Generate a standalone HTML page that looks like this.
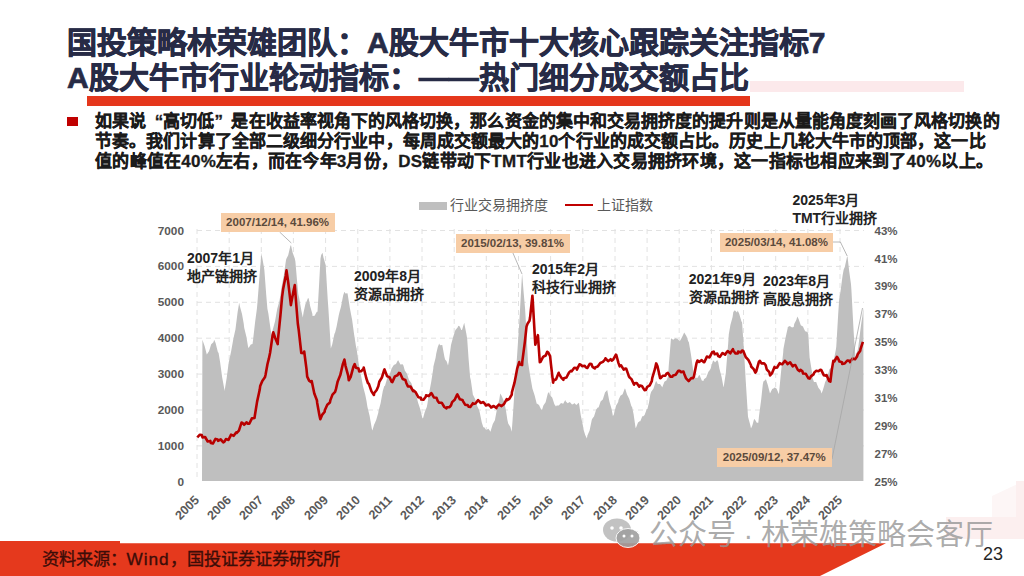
<!DOCTYPE html>
<html lang="zh-CN"><head><meta charset="utf-8">
<style>
*{margin:0;padding:0;box-sizing:border-box}
html,body{width:1024px;height:576px;overflow:hidden;background:#fff}
body{position:relative;font-family:"Liberation Sans",sans-serif}
.a{position:absolute;white-space:nowrap}
.t{position:absolute;left:67px;font-size:30px;line-height:34px;font-weight:bold;color:#272b46;white-space:nowrap;letter-spacing:0px;-webkit-text-stroke:0.7px #272b46}
.ql{display:inline-block;width:1em;text-align:right}
.qr{display:inline-block;width:1em;text-align:left}
.p{position:absolute;left:95px;font-size:17px;line-height:20px;font-weight:bold;color:#1b1b1b;white-space:nowrap;-webkit-text-stroke:0.3px #1b1b1b}
.yl{position:absolute;left:140px;width:44px;text-align:right;font-size:11.8px;line-height:16px;font-weight:bold;color:#595959}
.yr{position:absolute;left:874.5px;font-size:11.5px;line-height:16px;font-weight:bold;color:#595959}
.xl{position:absolute;top:490.5px;width:40px;text-align:right;font-size:12.5px;line-height:14px;font-weight:bold;color:#595959;transform:rotate(-45deg);transform-origin:100% 50%}
.an{position:absolute;font-size:14px;line-height:18px;font-weight:bold;color:#222;white-space:nowrap}
.lb{position:absolute;height:19px;background:#f7cda6;color:#5b4a3c;font-size:11.5px;line-height:19px;font-weight:bold;text-align:center;white-space:nowrap}
.lg{position:absolute;font-size:14px;line-height:16px;color:#595959;white-space:nowrap}
</style></head><body>
<svg class="a" style="left:0;top:0" width="1024" height="576" viewBox="0 0 1024 576">
 <polygon points="992,496 1024,481 1024,517 992,517" fill="#fdf6f6"/>
 <rect x="946" y="517" width="78" height="22" fill="#fcefef"/>
 <rect x="1016" y="481" width="8" height="58" fill="#fcefef"/>
</svg>
<div class="t" style="top:26px">国投策略林荣雄团队：A股大牛市十大核心跟踪关注指标7</div>
<div class="a" style="left:750px;top:81px;width:214px;height:11px;background:#fce9eb"></div>
<div class="t" style="top:61px">A股大牛市行业轮动指标：——热门细分成交额占比</div>
<div class="a" style="left:87px;top:95.5px;width:663px;height:10.5px;background:#e5371c"></div>
<div class="a" style="left:67px;top:116.5px;width:10.5px;height:9px;background:#c00000"></div>
<div class="p" style="top:111.5px;letter-spacing:0.07px">如果说<span class="ql">“</span>高切低<span class="qr">”</span>是在收益率视角下的风格切换，那么资金的集中和交易拥挤度的提升则是从量能角度刻画了风格切换的</div>
<div class="p" style="top:131.5px;letter-spacing:0.09px">节奏。我们计算了全部二级细分行业中，每周成交额最大的10个行业的成交额占比。历史上几轮大牛市的顶部，这一比</div>
<div class="p" style="top:151.5px;letter-spacing:0.25px">值的峰值在40%左右，而在今年3月份，DS链带动下TMT行业也进入交易拥挤环境，这一指标也相应来到了40%以上。</div>

<div class="a" style="left:419px;top:201.5px;width:28px;height:8.5px;background:#bfbfbf"></div>
<div class="lg" style="left:450px;top:197px">行业交易拥挤度</div>
<div class="a" style="left:565px;top:204px;width:28px;height:2.2px;background:#c00000"></div>
<div class="lg" style="left:597px;top:197px">上证指数</div>

<svg class="a" style="left:0;top:0" width="1024" height="576" viewBox="0 0 1024 576">
 <g stroke="#e2e2e2" stroke-width="1" stroke-dasharray="5,4" fill="none">
<line x1="197" y1="445.9" x2="864" y2="445.9"/>
<line x1="197" y1="410.0" x2="864" y2="410.0"/>
<line x1="197" y1="374.1" x2="864" y2="374.1"/>
<line x1="197" y1="338.2" x2="864" y2="338.2"/>
<line x1="197" y1="302.3" x2="864" y2="302.3"/>
<line x1="197" y1="266.4" x2="864" y2="266.4"/>
<line x1="197" y1="230.5" x2="864" y2="230.5"/>
<line x1="197.0" y1="229" x2="197.0" y2="481"/>
<line x1="229.2" y1="229" x2="229.2" y2="481"/>
<line x1="261.3" y1="229" x2="261.3" y2="481"/>
<line x1="293.4" y1="229" x2="293.4" y2="481"/>
<line x1="325.6" y1="229" x2="325.6" y2="481"/>
<line x1="357.8" y1="229" x2="357.8" y2="481"/>
<line x1="389.9" y1="229" x2="389.9" y2="481"/>
<line x1="422.0" y1="229" x2="422.0" y2="481"/>
<line x1="454.2" y1="229" x2="454.2" y2="481"/>
<line x1="486.3" y1="229" x2="486.3" y2="481"/>
<line x1="518.5" y1="229" x2="518.5" y2="481"/>
<line x1="550.6" y1="229" x2="550.6" y2="481"/>
<line x1="582.8" y1="229" x2="582.8" y2="481"/>
<line x1="615.0" y1="229" x2="615.0" y2="481"/>
<line x1="647.1" y1="229" x2="647.1" y2="481"/>
<line x1="679.2" y1="229" x2="679.2" y2="481"/>
<line x1="711.4" y1="229" x2="711.4" y2="481"/>
<line x1="743.5" y1="229" x2="743.5" y2="481"/>
<line x1="775.7" y1="229" x2="775.7" y2="481"/>
<line x1="807.9" y1="229" x2="807.9" y2="481"/>
<line x1="840.0" y1="229" x2="840.0" y2="481"/>
 </g>
 <path d="M202,481.0 L202.4,339.7 L204.6,346.1 L206.8,354.5 L209.0,351.2 L211.2,344.2 L213.4,342.3 L214.2,339.7 L215.6,342.9 L217.8,351.7 L218.6,353.0 L220.0,361.4 L222.2,377.4 L224.4,389.5 L224.5,391.3 L226.6,378.6 L228.8,361.9 L228.9,361.8 L231.0,352.1 L233.2,339.7 L234.8,332.3 L235.4,329.7 L237.6,312.3 L239.2,302.8 L239.8,306.1 L242.0,314.1 L243.7,323.5 L244.2,327.7 L246.4,336.8 L248.1,347.1 L248.6,347.9 L250.8,344.6 L252.5,344.1 L253.0,340.6 L255.2,321.3 L256.9,308.7 L257.4,303.2 L259.6,275.1 L261.5,252.7 L261.8,255.3 L264.0,267.4 L264.4,270.4 L266.2,294.4 L267.4,308.7 L268.4,313.8 L270.6,329.5 L271.8,335.3 L272.8,329.5 L275.0,321.5 L277.2,308.9 L279.4,300.9 L280.6,294.0 L281.6,287.0 L283.8,275.6 L286.0,260.0 L286.5,258.6 L288.2,255.2 L290.4,245.7 L291.0,245.3 L292.6,252.5 L294.8,258.5 L295.4,261.5 L297.0,280.2 L298.3,294.0 L299.2,297.9 L301.4,310.8 L302.8,317.6 L303.6,312.2 L305.7,302.8 L305.8,303.6 L308.0,298.0 L308.7,298.4 L310.2,306.3 L312.4,314.1 L312.5,316.1 L314.6,315.7 L316.8,311.8 L317.5,311.7 L319.0,285.9 L320.5,258.6 L321.2,255.0 L322.5,252.7 L323.4,257.2 L325.5,264.5 L325.6,264.4 L327.8,300.5 L328.4,308.7 L330.0,334.7 L330.8,348.6 L332.2,344.6 L334.4,333.9 L335.2,332.3 L336.6,326.5 L338.8,314.9 L339.6,311.7 L341.0,306.7 L343.2,295.2 L344.4,291.8 L345.4,293.6 L347.4,293.3 L347.6,293.8 L349.8,307.7 L351.8,318.3 L352.0,319.0 L354.2,334.9 L356.2,347.8 L356.4,347.6 L358.6,363.0 L360.6,374.4 L360.8,374.2 L363.0,386.2 L365.2,394.4 L366.5,400.9 L367.4,406.7 L369.6,415.8 L371.8,428.6 L372.4,430.4 L374.0,425.0 L376.2,420.0 L378.3,412.7 L378.4,411.5 L380.6,403.2 L382.8,390.9 L384.2,386.2 L385.0,385.7 L387.2,378.2 L389.4,375.2 L391.6,368.5 L393.8,365.0 L396.0,363.9 L397.5,361.1 L398.2,360.2 L400.4,364.5 L402.6,364.3 L403.4,365.5 L404.8,370.6 L407.0,373.8 L409.2,380.8 L409.3,380.3 L411.4,383.2 L413.6,389.7 L415.2,392.1 L415.8,393.4 L418.0,402.4 L420.2,409.0 L421.1,412.7 L422.4,417.9 L423.0,418.6 L424.6,412.5 L426.8,407.1 L427.4,403.9 L429.0,393.4 L431.2,382.1 L433.3,368.5 L433.4,366.4 L435.6,357.8 L436.2,353.7 L437.8,347.1 L439.2,343.4 L440.0,345.3 L442.1,344.9 L442.2,344.7 L444.4,356.8 L445.1,359.6 L446.6,361.2 L448.0,365.5 L448.8,361.4 L451.0,344.9 L453.2,336.7 L455.4,330.1 L457.6,327.5 L458.3,325.7 L459.8,326.6 L461.3,330.1 L462.0,329.9 L464.2,322.8 L466.4,334.0 L467.2,339.0 L468.6,359.0 L470.1,377.3 L470.8,380.0 L473.0,395.6 L473.1,395.0 L475.2,399.3 L477.4,406.4 L479.0,409.8 L479.6,411.7 L481.8,422.6 L483.4,427.5 L484.0,427.0 L486.2,429.9 L488.4,428.7 L490.6,431.7 L490.8,430.4 L492.8,423.9 L495.0,419.9 L495.2,418.6 L497.2,407.9 L499.4,398.9 L500.2,393.6 L501.6,395.7 L503.8,401.1 L504.1,400.9 L506.0,410.8 L507.4,420.0 L508.2,423.6 L510.4,427.0 L511.7,431.7 L512.6,419.8 L514.8,386.3 L516.2,368.0 L517.0,356.9 L519.2,323.7 L521.4,285.2 L522.1,273.6 L523.6,292.1 L525.1,309.0 L525.8,320.8 L528.0,362.1 L530.2,375.9 L532.4,388.6 L534.6,395.2 L536.8,404.0 L536.9,403.4 L539.0,405.0 L541.2,409.6 L542.0,410.0 L543.4,405.5 L545.6,402.2 L547.8,393.5 L549.0,392.0 L550.0,395.3 L552.2,397.4 L554.4,404.3 L556.0,406.5 L556.6,405.5 L558.8,405.4 L561.0,403.1 L563.2,403.8 L565.4,399.8 L565.5,401.0 L567.6,403.3 L569.8,402.1 L572.0,404.6 L573.5,404.0 L574.2,402.9 L576.4,405.0 L578.6,402.7 L579.0,403.5 L580.8,415.5 L583.0,426.0 L583.5,429.5 L585.2,435.1 L586.9,438.5 L587.4,435.4 L589.6,430.4 L591.8,419.7 L592.6,418.2 L594.0,416.6 L596.2,409.6 L598.2,406.9 L598.4,408.0 L600.6,401.5 L602.8,399.5 L605.0,392.6 L607.2,390.0 L609.4,401.5 L611.6,409.1 L612.9,416.0 L613.8,414.8 L616.0,405.8 L618.2,402.1 L618.5,400.1 L620.4,395.8 L622.6,394.3 L624.8,388.6 L625.3,388.9 L627.0,394.6 L629.2,398.7 L631.4,406.2 L632.1,406.9 L633.6,414.3 L635.5,427.2 L635.8,428.3 L638.0,422.5 L640.0,421.0 L640.2,421.6 L642.4,416.1 L643.0,416.5 L644.6,414.9 L646.8,409.1 L647.4,409.1 L649.0,402.4 L650.3,394.4 L651.2,391.8 L653.4,388.7 L655.6,381.9 L656.2,381.1 L657.8,383.9 L660.0,383.9 L662.1,387.0 L662.2,387.6 L664.4,381.7 L666.6,380.2 L668.0,376.7 L668.8,365.3 L671.0,338.3 L673.2,339.8 L675.4,338.3 L677.6,339.0 L679.8,341.3 L682.0,337.3 L684.2,332.4 L686.4,335.9 L688.6,342.3 L688.7,341.3 L690.8,353.4 L691.6,359.0 L693.0,369.3 L694.6,379.6 L695.2,377.5 L697.4,378.0 L699.0,375.2 L699.6,375.0 L701.8,380.4 L703.4,381.1 L704.0,379.2 L706.2,377.4 L708.4,371.7 L709.3,370.8 L710.6,368.7 L712.8,361.2 L713.7,360.5 L715.0,362.4 L717.2,360.1 L718.2,361.9 L719.4,368.6 L721.6,377.1 L723.5,387.3 L723.8,386.3 L725.9,372.6 L726.0,370.6 L728.2,343.2 L728.8,334.2 L730.4,324.9 L732.6,317.0 L733.3,312.1 L734.8,310.3 L737.0,312.4 L737.7,310.6 L739.2,313.8 L741.4,321.2 L742.1,322.4 L743.6,345.0 L745.1,369.6 L745.8,381.8 L748.0,416.8 L750.2,424.7 L751.0,428.6 L752.4,425.3 L753.9,419.8 L754.6,419.1 L756.8,422.7 L758.3,422.7 L759.0,415.9 L761.2,399.4 L762.8,384.4 L763.4,381.6 L765.6,379.7 L765.7,378.5 L767.8,385.0 L770.0,393.4 L770.1,393.2 L772.2,389.0 L774.4,388.1 L774.6,387.3 L776.6,388.7 L778.8,394.1 L779.0,393.2 L781.0,372.3 L783.2,352.4 L783.4,349.0 L785.4,338.5 L787.6,328.5 L787.8,326.9 L789.8,325.9 L792.0,327.4 L793.7,326.9 L794.2,324.0 L796.4,319.8 L797.3,316.5 L798.6,318.9 L800.8,325.2 L801.1,325.4 L803.0,326.4 L803.8,328.5 L805.2,331.3 L807.4,332.0 L808.3,334.4 L809.6,357.5 L809.7,358.0 L811.8,371.0 L812.7,378.6 L814.0,381.9 L816.2,382.0 L817.1,384.5 L818.4,387.8 L820.6,390.6 L821.5,393.4 L822.8,390.2 L824.5,384.5 L825.0,382.5 L827.2,377.4 L828.9,371.3 L829.4,369.2 L831.6,367.4 L833.3,363.9 L833.8,360.2 L836.0,348.8 L836.3,346.2 L838.2,314.0 L839.2,299.0 L840.4,292.2 L842.6,275.5 L843.7,269.5 L844.8,267.0 L847.0,257.0 L847.5,256.2 L849.2,271.2 L851.0,284.2 L851.4,289.8 L853.6,330.8 L854.0,337.3 L855.5,358.0 L855.8,355.3 L858.0,349.1 L858.4,346.2 L860.2,331.4 L861.4,322.6 L862.4,316.2 L863.4,307.8 L863.4,481.0 Z" fill="#bfbfbf"/>
 <path d="M197.3,437.4 L199.9,434.7 L201.8,435.1 L202.5,437.4 L205.1,437.0 L207.7,441.5 L210.3,440.9 L210.8,443.0 L212.9,443.5 L215.5,438.9 L217.6,439.6 L218.1,440.9 L220.7,439.3 L223.3,442.4 L224.3,441.9 L225.9,439.1 L228.5,439.9 L231.1,434.7 L232.2,435.1 L233.7,435.8 L236.3,432.3 L236.8,432.9 L238.9,430.7 L241.5,422.6 L242.4,422.7 L244.1,424.8 L246.7,422.3 L248.0,423.8 L249.3,423.8 L251.9,418.4 L254.5,418.0 L254.8,416.0 L257.1,401.6 L259.7,389.8 L260.2,386.0 L262.3,381.0 L264.9,377.3 L265.5,375.0 L267.5,364.0 L268.8,358.9 L270.1,352.7 L272.7,334.7 L273.3,332.3 L275.3,338.2 L277.7,344.1 L277.9,340.4 L280.5,314.7 L282.1,296.9 L283.1,289.3 L285.7,276.0 L286.5,270.4 L288.3,283.0 L290.9,305.1 L291.0,304.3 L293.5,291.0 L294.8,285.1 L296.1,302.5 L297.8,323.5 L298.7,329.9 L301.3,353.0 L303.9,353.1 L304.2,351.5 L306.5,369.1 L307.2,376.6 L309.1,380.6 L311.6,382.5 L311.7,381.1 L314.3,393.5 L316.9,400.2 L317.2,403.0 L319.5,415.7 L320.3,419.3 L322.1,414.9 L324.7,411.7 L324.8,410.3 L327.3,404.8 L329.9,402.5 L330.4,400.1 L332.5,394.6 L335.1,391.9 L336.0,388.9 L337.7,381.4 L340.3,375.1 L342.9,363.9 L344.4,359.6 L345.5,365.8 L348.1,375.4 L348.8,380.3 L350.7,376.8 L353.3,367.1 L354.7,364.1 L355.9,367.7 L358.5,368.5 L359.2,371.4 L361.1,371.3 L363.6,368.5 L363.7,367.6 L366.3,378.3 L368.0,383.2 L368.9,383.8 L371.5,391.4 L373.9,395.0 L374.1,393.3 L376.7,390.0 L378.3,386.2 L379.3,381.7 L381.9,377.5 L384.2,370.0 L384.5,369.4 L387.1,376.2 L389.7,377.5 L391.6,381.8 L392.3,382.1 L394.9,376.4 L397.5,375.3 L399.0,372.9 L400.1,373.2 L402.7,379.1 L405.3,379.9 L406.4,383.2 L407.9,386.4 L410.5,386.5 L413.1,391.1 L413.7,390.6 L415.7,392.3 L418.3,397.2 L420.9,397.7 L421.1,399.5 L423.5,399.7 L425.9,396.5 L426.1,395.3 L428.7,396.1 L431.3,393.1 L431.8,393.6 L433.9,397.5 L436.5,397.7 L437.7,400.9 L439.1,402.8 L441.7,402.7 L444.3,407.0 L446.5,408.3 L446.9,407.3 L449.5,407.2 L451.0,405.4 L452.1,402.1 L454.7,399.8 L456.9,395.0 L457.3,394.4 L459.9,399.3 L462.5,399.9 L462.8,400.9 L465.1,404.7 L467.7,405.1 L468.7,406.8 L470.3,406.9 L472.9,403.2 L473.1,403.9 L475.5,403.5 L478.1,400.1 L479.0,400.9 L480.7,402.9 L483.3,402.1 L484.9,403.9 L485.9,405.5 L488.5,404.5 L490.8,406.8 L491.1,407.5 L493.7,406.0 L496.3,408.1 L496.7,406.8 L498.9,404.6 L501.5,406.1 L504.1,403.9 L506.7,399.1 L507.2,400.1 L509.3,398.9 L511.8,394.5 L511.9,392.4 L514.5,382.7 L516.2,373.9 L517.1,368.9 L519.2,362.1 L519.7,364.2 L522.1,365.0 L522.3,361.6 L524.9,341.6 L526.5,326.7 L527.5,323.8 L529.5,320.8 L530.1,317.3 L532.4,295.7 L532.7,299.8 L535.3,344.6 L535.4,344.4 L537.8,335.5 L537.9,335.2 L539.8,362.1 L540.5,361.9 L543.1,356.8 L544.2,356.2 L545.7,355.5 L547.2,351.8 L548.3,352.6 L550.1,356.2 L550.9,363.9 L553.1,382.7 L553.5,380.5 L556.1,379.3 L558.7,372.8 L559.0,373.9 L561.3,377.7 L563.4,379.8 L563.9,378.2 L566.5,377.5 L569.1,372.4 L570.8,370.9 L571.7,371.3 L574.3,367.8 L576.7,368.0 L576.9,369.6 L579.5,364.3 L581.1,365.0 L582.1,366.2 L584.7,365.7 L585.8,367.4 L587.3,368.0 L589.9,363.7 L591.4,364.0 L592.5,366.9 L594.8,368.5 L595.1,367.5 L597.7,366.6 L600.3,363.0 L602.9,361.9 L605.0,359.5 L605.5,358.3 L608.1,361.2 L610.7,359.2 L611.7,360.6 L613.3,359.4 L615.9,354.7 L616.3,355.0 L618.5,363.1 L619.7,366.3 L621.1,365.3 L623.7,369.7 L625.3,368.5 L626.3,368.8 L628.9,376.4 L629.8,377.6 L631.5,379.1 L634.1,384.7 L634.3,383.2 L636.7,383.0 L639.3,386.7 L640.0,385.5 L641.9,386.0 L644.5,390.1 L645.9,390.0 L647.1,387.0 L649.7,385.3 L651.8,381.1 L652.3,377.8 L654.9,369.2 L656.2,363.4 L657.5,366.3 L660.1,378.1 L660.6,378.2 L662.7,375.8 L665.3,375.7 L666.5,373.7 L667.9,372.9 L670.5,376.8 L672.4,376.7 L673.1,375.4 L675.7,374.8 L678.3,370.8 L679.8,370.8 L680.9,372.1 L683.5,371.6 L684.2,373.7 L686.1,378.4 L688.7,381.1 L691.3,378.0 L693.1,378.2 L693.9,376.6 L696.5,363.2 L697.5,360.5 L699.1,361.9 L701.7,360.2 L703.4,361.9 L704.3,362.2 L706.9,356.6 L709.5,357.4 L712.1,352.3 L713.7,351.6 L714.7,354.3 L717.3,353.6 L718.2,356.0 L719.9,356.9 L722.5,353.0 L725.1,354.7 L725.9,353.4 L727.7,351.0 L730.3,353.3 L732.9,349.2 L733.3,350.5 L735.5,353.5 L737.7,353.4 L738.1,351.6 L740.7,352.5 L742.1,350.5 L743.3,351.0 L745.9,357.4 L746.5,357.8 L748.5,360.1 L751.0,365.2 L751.1,366.5 L753.7,369.2 L755.4,372.6 L756.3,371.2 L758.9,361.9 L759.8,360.8 L761.5,363.4 L764.1,363.2 L765.7,365.2 L766.7,369.3 L769.3,372.2 L770.1,375.5 L771.9,373.5 L774.5,366.9 L774.6,368.1 L777.1,367.5 L779.7,363.1 L780.5,363.7 L782.3,364.3 L784.9,360.9 L786.4,362.3 L787.5,364.1 L790.1,362.3 L792.7,366.3 L793.7,365.2 L795.3,365.0 L797.9,370.0 L799.6,371.1 L800.5,369.8 L802.4,371.3 L803.1,373.5 L805.7,373.7 L808.3,378.2 L809.7,378.6 L810.9,376.4 L813.5,374.4 L814.2,372.7 L816.1,370.8 L818.7,371.2 L820.1,369.8 L821.3,370.1 L823.9,375.3 L826.0,375.7 L826.5,375.1 L829.1,381.0 L830.4,381.6 L831.7,370.6 L833.3,360.9 L834.3,361.5 L836.9,356.8 L837.8,358.0 L839.5,361.6 L842.1,362.2 L842.2,363.9 L844.7,363.5 L847.3,360.5 L849.6,360.9 L849.9,362.2 L852.5,358.6 L855.1,359.3 L857.0,356.5 L857.7,354.3 L860.3,350.7 L860.5,349.1 L862.9,341.8" fill="none" stroke="#b80000" stroke-width="2.6" stroke-linejoin="round"/>
 <g stroke="#a6a6a6" stroke-width="0.8" fill="none">
  <polyline points="279.6,232 291.3,243"/>
  <polyline points="512.5,252 522,274"/>
  <polyline points="833,242 840.4,242 847.2,256"/>
  <polyline points="832,459 862.5,308"/>
 </g>
</svg>
<div class="yl" style="top:473.8px">0</div>
<div class="yl" style="top:437.9px">1000</div>
<div class="yl" style="top:402.0px">2000</div>
<div class="yl" style="top:366.1px">3000</div>
<div class="yl" style="top:330.2px">4000</div>
<div class="yl" style="top:294.3px">5000</div>
<div class="yl" style="top:258.4px">6000</div>
<div class="yl" style="top:222.5px">7000</div>
<div class="yr" style="top:473.7px">25%</div>
<div class="yr" style="top:445.8px">27%</div>
<div class="yr" style="top:417.9px">29%</div>
<div class="yr" style="top:390.0px">31%</div>
<div class="yr" style="top:362.1px">33%</div>
<div class="yr" style="top:334.2px">35%</div>
<div class="yr" style="top:306.3px">37%</div>
<div class="yr" style="top:278.4px">39%</div>
<div class="yr" style="top:250.5px">41%</div>
<div class="yr" style="top:222.6px">43%</div>
<div class="xl" style="left:157.0px">2005</div>
<div class="xl" style="left:189.2px">2006</div>
<div class="xl" style="left:221.3px">2007</div>
<div class="xl" style="left:253.4px">2008</div>
<div class="xl" style="left:285.6px">2009</div>
<div class="xl" style="left:317.8px">2010</div>
<div class="xl" style="left:349.9px">2011</div>
<div class="xl" style="left:382.0px">2012</div>
<div class="xl" style="left:414.2px">2013</div>
<div class="xl" style="left:446.3px">2014</div>
<div class="xl" style="left:478.5px">2015</div>
<div class="xl" style="left:510.6px">2016</div>
<div class="xl" style="left:542.8px">2017</div>
<div class="xl" style="left:575.0px">2018</div>
<div class="xl" style="left:607.1px">2019</div>
<div class="xl" style="left:639.2px">2020</div>
<div class="xl" style="left:671.4px">2021</div>
<div class="xl" style="left:703.5px">2022</div>
<div class="xl" style="left:735.7px">2023</div>
<div class="xl" style="left:767.9px">2024</div>
<div class="xl" style="left:800.0px">2025</div>
<div class="lb" style="left:220.6px;top:213px;width:114px">2007/12/14, 41.96%</div>
<div class="lb" style="left:455.5px;top:233.5px;width:114px">2015/02/13, 39.81%</div>
<div class="lb" style="left:719.7px;top:233px;width:113.5px">2025/03/14, 41.08%</div>
<div class="lb" style="left:717px;top:448px;width:114.5px">2025/09/12, 37.47%</div>

<div class="an" style="left:187px;top:249px">2007年1月<br>地产链拥挤</div>
<div class="an" style="left:354px;top:267px">2009年8月<br>资源品拥挤</div>
<div class="an" style="left:532px;top:260px">2015年2月<br>科技行业拥挤</div>
<div class="an" style="left:688.7px;top:270px">2021年9月<br>资源品拥挤</div>
<div class="an" style="left:763px;top:271.5px">2023年8月<br>高股息拥挤</div>
<div class="an" style="left:792.4px;top:191px">2025年3月<br>TMT行业拥挤</div>

<svg class="a" style="left:0;top:0" width="1024" height="576" viewBox="0 0 1024 576">
 <polygon points="0,541 120,541 120,543.2 886,543.2 820,576 0,576" fill="#e5391d"/>
</svg>
<div class="a" style="left:41.5px;top:549px;font-size:17.2px;line-height:20px;color:#3c0d08;-webkit-text-stroke:0.35px #3c0d08">资料来源：<span style="letter-spacing:1px">Wind</span>，国投证券证券研究所</div>
<svg class="a" style="left:602px;top:518px" width="40" height="31" viewBox="0 0 40 31">
 <ellipse cx="15" cy="12" rx="14" ry="11.5" fill="#b3b3b3" opacity="0.8"/>
 <ellipse cx="26" cy="20" rx="12" ry="9.5" fill="#a0a0a0" opacity="0.9" stroke="#fff" stroke-width="1"/>
 <circle cx="10" cy="10" r="1.8" fill="#fff"/><circle cx="19" cy="10" r="1.8" fill="#fff"/>
 <circle cx="22" cy="18" r="1.5" fill="#fff"/><circle cx="30" cy="18" r="1.5" fill="#fff"/>
</svg>
<div class="a" style="left:648.5px;top:518px;font-size:29px;line-height:34px;font-weight:300;color:rgba(150,150,150,0.8)">公众号 · 林荣雄策略会客厅</div>
<div class="a" style="left:983px;top:543px;font-size:18px;line-height:22px;color:#262626">23</div>
</body></html>
